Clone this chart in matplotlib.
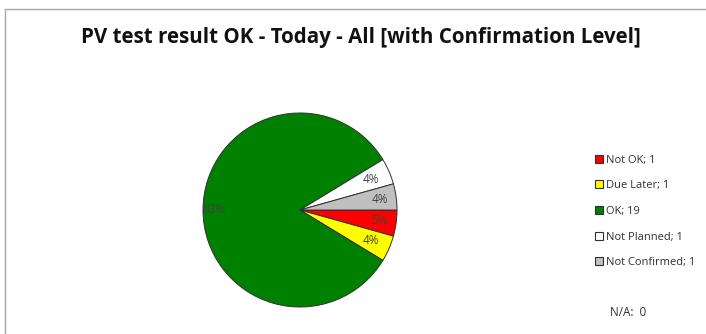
import matplotlib
matplotlib.use("Agg")
import matplotlib.pyplot as plt
from matplotlib.patches import Rectangle
import numpy as np

# Status breakdown of PV test results
categories = ["Not OK", "Due Later", "OK", "Not Planned", "Not Confirmed"]
counts = [1, 1, 19, 1, 1]
pct_labels = ["5%", "4%", "83%", "4%", "4%"]
colors = ["#FF0000", "#FFFF00", "#008000", "#FFFFFF", "#C0C0C0"]
na_count = 0
title = "PV test result OK - Today - All [with Confirmation Level]"

W, H = 706, 334
fig = plt.figure(figsize=(W / 100, H / 100), dpi=100)
plt.rcParams["font.family"] = ["Open Sans", "DejaVu Sans"]

# chart-area border
fig.patches.append(Rectangle((5 / W, -0.05), 1.1, 1 - 9 / H + 0.05,
                             transform=fig.transFigure, fill=False,
                             edgecolor="#A6A6A6", linewidth=1.0))

fig.text(361 / W, 1 - 37 / H, title, ha="center", va="center",
         fontsize=14.8, fontweight="bold", color="#111111")

cx, cy, r = 300, 210, 97
ax = fig.add_axes([(cx - r) / W, (H - cy - r) / H, 2 * r / W, 2 * r / H])
wedges, _ = ax.pie(counts, colors=colors, startangle=0, counterclock=False,
                   radius=1.0,
                   wedgeprops=dict(edgecolor="#303030", linewidth=0.7))
ax.set_xlim(-1, 1)
ax.set_ylim(-1, 1)
ax.set_aspect("equal")
ax.axis("off")

dists = [0.83, 0.8, 0.89, 0.8, 0.83]
for w, lab, d in zip(wedges, pct_labels, dists):
    mid = np.deg2rad((w.theta1 + w.theta2) / 2)
    ax.text(d * np.cos(mid), d * np.sin(mid), lab, ha="center", va="center",
            fontsize=8.5, color="#404040")

legend_labels = [f"{c}; {v}" for c, v in zip(categories, counts)]
leg = fig.legend(wedges, legend_labels, loc="upper left",
                 bbox_to_anchor=(589 / W, 1 - 149 / H), frameon=False,
                 fontsize=8, handlelength=0.75, handleheight=0.75,
                 handletextpad=0.3, labelspacing=1.32, borderpad=0)
for h in leg.legend_handles:
    h.set_edgecolor("#303030")
    h.set_linewidth(0.8)
for t in leg.get_texts():
    t.set_color("#303030")

fig.text(610 / W, 1 - 312 / H, f"N/A:  {na_count}", ha="left", va="center",
         fontsize=8.5, color="#303030")

fig.savefig("out.png", dpi=100)
